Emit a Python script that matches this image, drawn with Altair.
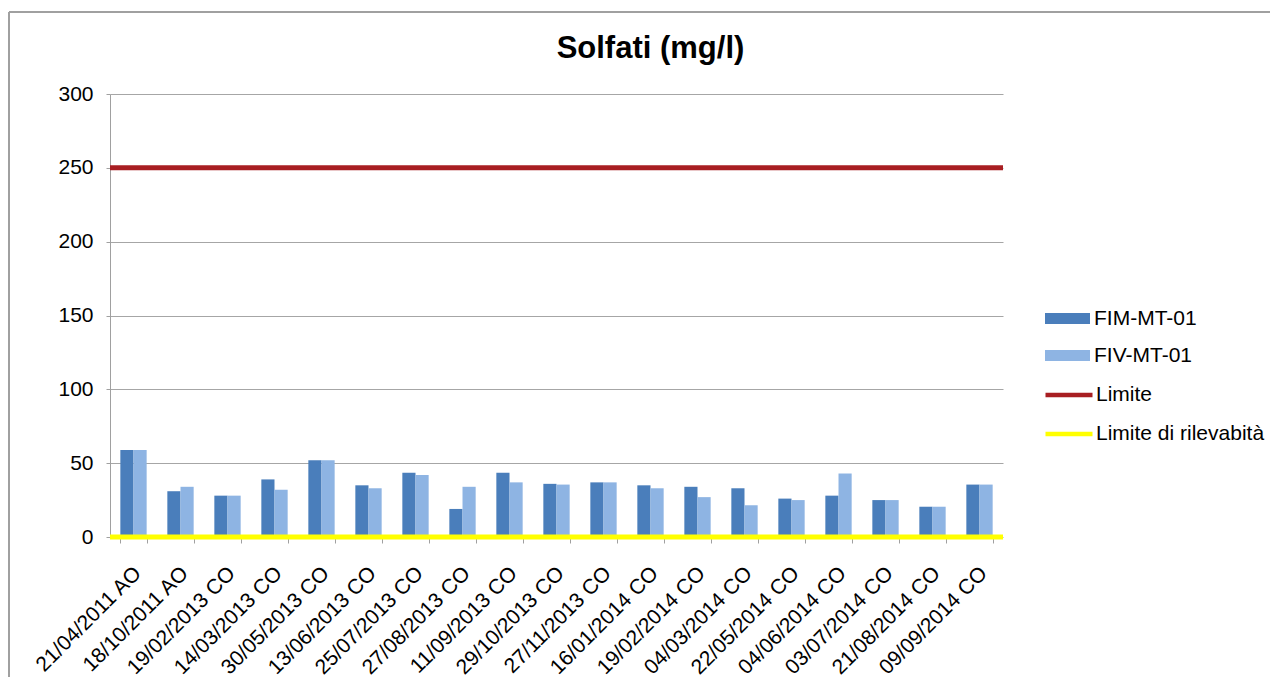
import altair as alt
import pandas as pd

categories = ["21/04/2011 AO", "18/10/2011 AO", "19/02/2013 CO", "14/03/2013 CO",
              "30/05/2013 CO", "13/06/2013 CO", "25/07/2013 CO", "27/08/2013 CO",
              "11/09/2013 CO", "29/10/2013 CO", "27/11/2013 CO", "16/01/2014 CO",
              "19/02/2014 CO", "04/03/2014 CO", "22/05/2014 CO", "04/06/2014 CO",
              "03/07/2014 CO", "21/08/2014 CO", "09/09/2014 CO"]
fim_mt_01 = [59, 31, 28, 39, 52, 35, 43.5, 19, 43.5, 36, 37, 35, 34, 33, 26, 28, 25, 20.5, 35.5]
fiv_mt_01 = [59, 34, 28, 32, 52, 33, 42, 34, 37, 35.5, 37, 33, 27, 21.5, 25, 43, 25, 20.5, 35.5]
series_names = ["FIM-MT-01", "FIV-MT-01"]
series_colors = ["#4A7EBB", "#8EB4E3"]
line_names = ["Limite", "Limite di rilevabità"]
line_values = [250, 0]
line_colors = ["#A81E22", "#FFFF00"]
y_ticks = [0, 50, 100, 150, 200, 250, 300]

FONT = "Liberation Sans"
FS = 21

rows = []
for c, a, b in zip(categories, fim_mt_01, fiv_mt_01):
    rows.append({"cat": c, "series": series_names[0], "value": a})
    rows.append({"cat": c, "series": series_names[1], "value": b})
bars_df = pd.DataFrame(rows)
lines_df = pd.DataFrame({"name": line_names, "value": line_values})

x_enc = alt.X("cat:N", sort=categories,
              scale=alt.Scale(paddingInner=0.44, paddingOuter=0.22),
              axis=alt.Axis(title=None, labelAngle=-45, labelAlign="right",
                            labelBaseline="middle", labelFontSize=FS, labelFont=FONT,
                            labelColor="#000000", labelPadding=27, labelOffset=4,
                            tickBand="extent", tickColor="#a0a0a0", tickSize=6,
                            domain=False, grid=False, labelOverlap=False, labelLimit=300))
y_scale = alt.Scale(domain=[0, 300], nice=False)
y_axis = alt.Axis(title=None, values=y_ticks, grid=True, gridColor="#a6a6a6",
                  domainColor="#a0a0a0", tickColor="#a0a0a0", tickSize=4,
                  labelFontSize=FS, labelFont=FONT, labelColor="#000000", labelPadding=13)

bars = alt.Chart(bars_df).mark_bar().encode(
    x=x_enc,
    xOffset=alt.XOffset("series:N", sort=series_names, scale=alt.Scale(paddingInner=0, paddingOuter=0)),
    y=alt.Y("value:Q", scale=y_scale, axis=y_axis),
    color=alt.Color("series:N", sort=series_names,
                    scale=alt.Scale(domain=series_names, range=series_colors),
                    legend=alt.Legend(title=None, orient="none", legendX=935, legendY=202,
                                      symbolType="M-1,-0.24H1V0.24H-1Z", symbolSize=2025,
                                      symbolStrokeWidth=0, symbolOpacity=1,
                                      labelFontSize=FS, labelFont=FONT, labelColor="#000000",
                                      rowPadding=4, labelOffset=4, padding=0, labelLimit=300)),
)

rules = alt.Chart(lines_df).mark_rule(strokeWidth=5).encode(
    y=alt.Y("value:Q", scale=y_scale),
    stroke=alt.Stroke("name:N", sort=line_names,
                      scale=alt.Scale(domain=line_names, range=line_colors),
                      legend=alt.Legend(title=None, orient="none", legendX=933, legendY=275,
                                        symbolType="M-1,0H1", symbolSize=2209,
                                        symbolStrokeWidth=4.5, symbolOpacity=1,
                                        labelFontSize=FS, labelFont=FONT, labelColor="#000000",
                                        rowPadding=3, labelOffset=1, padding=0, labelLimit=300)),
)

frame_top = alt.Chart(lines_df).mark_rule(color="#a0a0a0", strokeWidth=2).encode(
    x=alt.value(-101), x2=alt.value(1200), y=alt.value(-82))
frame_left = alt.Chart(lines_df).mark_rule(color="#a0a0a0", strokeWidth=2).encode(
    x=alt.value(-101), y=alt.value(-82), y2=alt.value(700))

chart = alt.layer(frame_top, frame_left, bars, rules).resolve_scale(
    color="independent", stroke="independent"
).properties(
    width=893, height=443,
    padding={"left": 102, "top": 86, "right": 267, "bottom": 140},
    autosize=alt.AutoSizeParams(type="none"),
    title=alt.TitleParams("Solfati (mg/l)", fontSize=31, fontWeight="bold", font=FONT,
                          color="#000000", anchor="middle", frame="group", dx=94,
                          baseline="alphabetic", offset=-78),
).configure_view(stroke=None)

chart.save("out.html", embed_options={"renderer": "svg", "actions": False})
